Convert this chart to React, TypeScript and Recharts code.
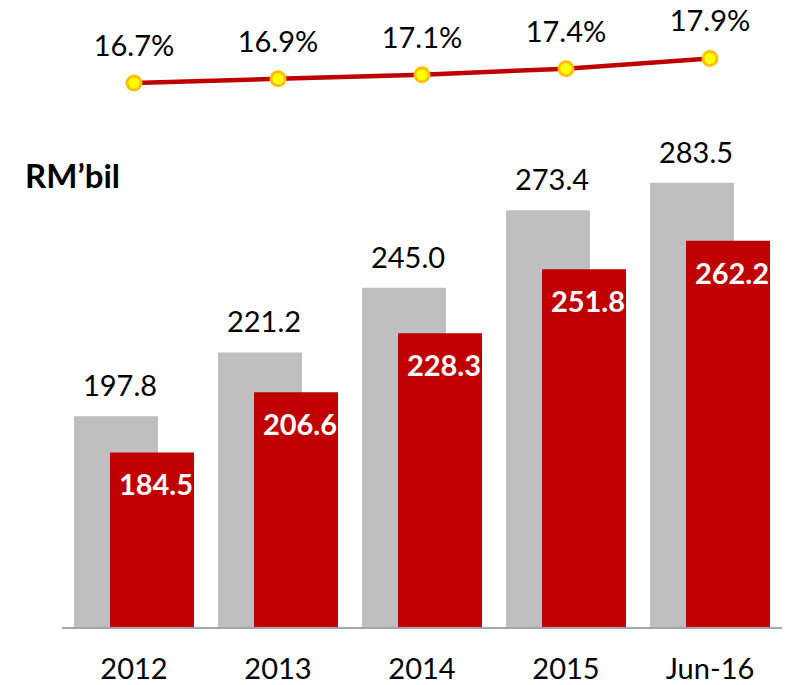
import { ComposedChart, Bar, Line, XAxis, YAxis, LabelList } from "recharts";

const categories = ["2012", "2013", "2014", "2015", "Jun-16"];
const greyValues = [197.8, 221.2, 245.0, 273.4, 283.5];
const redValues = [184.5, 206.6, 228.3, 251.8, 262.2];
const pctValues = [16.7, 16.9, 17.1, 17.4, 17.9];

const data = categories.map((name, i) => ({
  name,
  grey: greyValues[i],
  red: redValues[i],
  pct: pctValues[i],
}));

const FONT = "Lato, 'Open Sans', sans-serif";
const RED = "#C00000";
const GREY = "#BFBFBF";

const W = 787;
const H = 685;
const PLOT_TOP = 29;
const AXIS_Y = 628;

// grey bar value, sits above the bar
const GreyLabel = (props: any) => {
  const { x, y, width, value } = props;
  return (
    <text
      x={x + width / 2 + 4}
      y={y - 20}
      textAnchor="middle"
      fontFamily={FONT}
      fontSize={29}
      fill="#000"
    >
      {Number(value).toFixed(1)}
    </text>
  );
};

// red bar value, white bold inside the top of the bar
const RedLabel = (props: any) => {
  const { x, y, width, value } = props;
  return (
    <text
      x={x + width / 2 + 4}
      y={y + 43}
      textAnchor="middle"
      fontFamily={FONT}
      fontSize={29}
      fontWeight="bold"
      fill="#fff"
    >
      {Number(value).toFixed(1)}
    </text>
  );
};

const PctLabel = (props: any) => {
  const { x, y, value } = props;
  return (
    <text
      x={x}
      y={y - 27}
      textAnchor="middle"
      fontFamily={FONT}
      fontSize={29}
      fill="#000"
    >
      {Number(value).toFixed(1)}%
    </text>
  );
};

const CategoryTick = (props: any) => {
  const { x, payload } = props;
  return (
    <text
      x={x}
      y={AXIS_Y + 51}
      textAnchor="middle"
      fontFamily={FONT}
      fontSize={29}
      fill="#000"
    >
      {payload.value}
    </text>
  );
};

export default function App() {
  return (
    <div style={{ position: "absolute", left: 0, top: 0, width: W, height: H, background: "#fff" }}>
      <ComposedChart
        width={W}
        height={H}
        data={data}
        margin={{ top: PLOT_TOP, right: 5, bottom: 0, left: 62 }}
        barGap={-48}
      >
        <XAxis
          dataKey="name"
          height={H - AXIS_Y}
          tickLine={false}
          axisLine={{ stroke: "#A6A6A6", strokeWidth: 2 }}
          tick={<CategoryTick />}
          interval={0}
        />
        <YAxis yAxisId="bil" hide domain={[120, 340]} />
        <YAxis yAxisId="pct" hide orientation="right" domain={[-10.1, 19.35]} />
        <Bar yAxisId="bil" dataKey="grey" fill={GREY} barSize={84} isAnimationActive={false}>
          <LabelList dataKey="grey" content={<GreyLabel />} />
        </Bar>
        <Bar yAxisId="bil" dataKey="red" fill={RED} barSize={84} isAnimationActive={false}>
          <LabelList dataKey="red" content={<RedLabel />} />
        </Bar>
        <Line
          yAxisId="pct"
          dataKey="pct"
          stroke={RED}
          strokeWidth={4.5}
          dot={{ r: 7, fill: "#FFFF00", stroke: "#FFC000", strokeWidth: 3 }}
          isAnimationActive={false}
        >
          <LabelList dataKey="pct" content={<PctLabel />} />
        </Line>
      </ComposedChart>
      <div
        style={{
          position: "absolute",
          left: 25,
          top: 156,
          fontFamily: FONT,
          fontWeight: "bold",
          fontSize: 33,
          lineHeight: "38px",
          color: "#000",
        }}
      >
        RM’bil
      </div>
    </div>
  );
}
